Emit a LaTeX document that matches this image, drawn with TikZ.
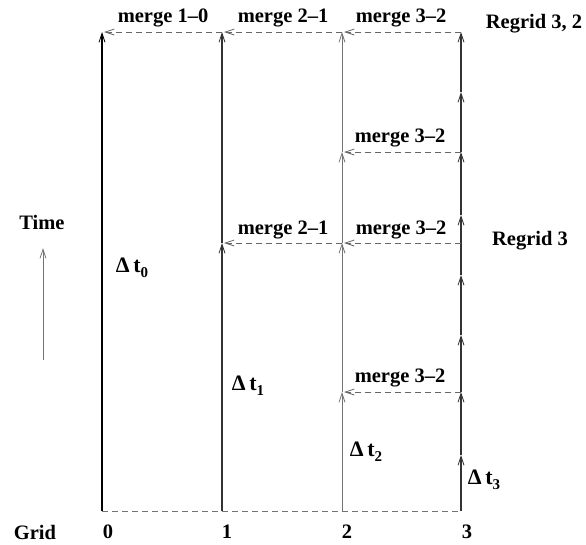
\documentclass[tikz,border=0pt]{standalone}
\usepackage{fontspec}
\setmainfont{Liberation Serif}
\usetikzlibrary{arrows.meta}

\newcommand{\dts}[1]{{\fontsize{22}{24}\selectfont Δ\,t}\raisebox{-0.5ex}{\fontsize{15}{15}\selectfont\bfseries #1}}

\tikzset{
  lbl/.style={font=\fontsize{20.5}{24}\selectfont\bfseries, inner sep=0pt},
  up/.style={-{Straight Barb[length=9pt,width=6pt,line width=0.8pt]}},
  merge/.style={dashed, dash pattern=on 6pt off 4pt, draw=black!60, line width=0.8pt,
    -{Straight Barb[length=9pt,width=6pt,line width=0.8pt]}, shorten >=2pt},
  gridline/.style={dashed, dash pattern=on 6pt off 4pt, draw=black!55, line width=0.8pt}
}

\begin{document}
\begin{tikzpicture}[x=1pt,y=-1pt]
\useasboundingbox (0,0) rectangle (586,544);

% grid points
\coordinate (b0) at (102,511);
\coordinate (b1) at (222,511);
\coordinate (b2) at (342,511);
\coordinate (b3) at (461,511);
\coordinate (a0) at (102,32);
\coordinate (a1-1) at (222,243);
\coordinate (a1-2) at (222,32);
\foreach \y [count=\i] in {392,243,152,32}
  \coordinate (a2-\i) at (342,\y);
\foreach \y [count=\i] in {455,392,335,275,215,152,92,32}
  \coordinate (a3-\i) at (461,\y);
\coordinate (m3) at (461,243);

% grid 0 and 1
\draw[up, line width=1.3pt] (b0) -- (a0);
\draw[up, line width=1.3pt, draw=black!80] (b1) -- (a1-1);
\draw[up, line width=1.3pt, draw=black!80] (a1-1) -- (a1-2);

% grid 2
\draw[up, line width=0.7pt, draw=black!55] (b2) -- (a2-1);
\foreach \i [evaluate=\i as \j using int(\i+1)] in {1,2,3}
  \draw[up, line width=0.7pt, draw=black!55] (a2-\i) -- (a2-\j);

% grid 3
\draw[up, line width=1.2pt, draw=black!80] (b3) -- (a3-1);
\foreach \i [evaluate=\i as \j using int(\i+1)] in {1,...,7}
  \draw[up, line width=1.2pt, draw=black!80] (a3-\i) -- (a3-\j);

% merges
\draw[gridline] (b0) -- (b3);
\draw[merge] (a3-2) -- (a2-1);
\draw[merge] (a3-6) -- (a2-3);
\draw[merge] (m3) -- (a2-2);
\draw[merge] (a2-2) -- (a1-1);
\draw[merge] (a3-8) -- (a2-4);
\draw[merge] (a2-4) -- (a1-2);
\draw[merge] (a1-2) -- (a0);

\node[lbl] (l10) at (163,18) {merge 1–0};
\node[lbl] (l21a) at (283,18) {merge 2–1};
\node[lbl] (l32a) at (401,18) {merge 3–2};
\node[lbl] (rg32) at (534,24) {Regrid 3, 2};
\node[lbl] (l32b) at (400,138) {merge 3–2};
\node[lbl] (l21b) at (283,230) {merge 2–1};
\node[lbl] (l32c) at (401,230) {merge 3–2};
\node[lbl] (rg3) at (530,241) {Regrid 3};
\node[lbl] (l32d) at (400,378) {merge 3–2};

% time axis
\node[lbl] (time) at (42,222) {Time};
\coordinate (t0) at (43,360);
\coordinate (t1) at (43,248);
\draw[up, line width=0.6pt, draw=black!55] (t0) -- (t1);

\node[lbl] (dt0) at (132,268) {\dts{0}};
\node[lbl] (dt1) at (248,386) {\dts{1}};
\node[lbl] (dt2) at (366,452) {\dts{2}};
\node[lbl] (dt3) at (484,480) {\dts{3}};

\node[lbl] (grid) at (35,532) {Grid};
\foreach \n/\x in {0/108,1/227,2/347,3/467}
  \node[lbl] (g\n) at (\x,532) {\n};
\end{tikzpicture}
\end{document}
